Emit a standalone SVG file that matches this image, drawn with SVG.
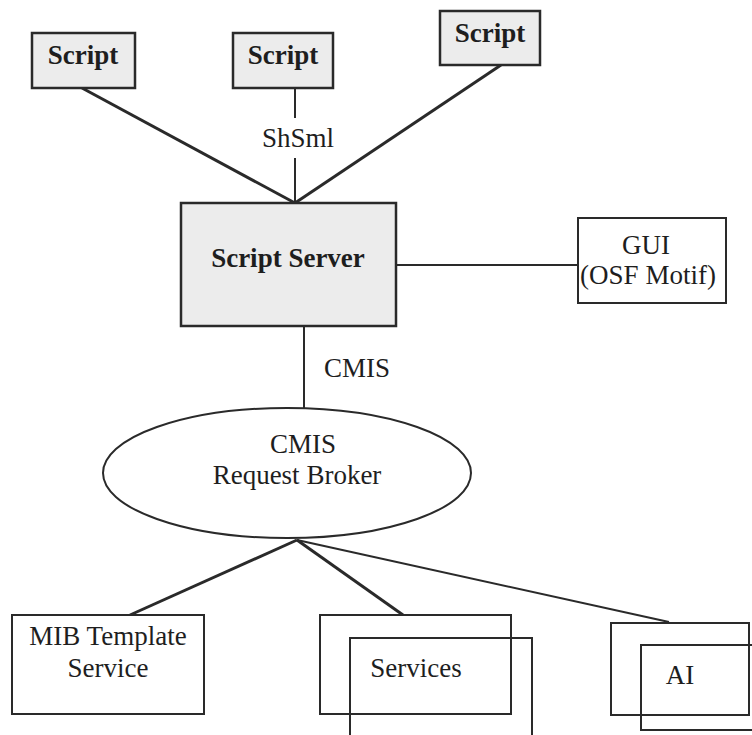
<svg xmlns="http://www.w3.org/2000/svg" width="752" height="735" viewBox="0 0 752 735">
<style>
.box{fill:#ffffff;stroke:#2a2a2a;stroke-width:2}
.gbox{fill:#ececec;stroke:#2a2a2a;stroke-width:2.5}
.t{font-family:"Liberation Serif","Times New Roman",serif;font-size:27px;fill:#1e1e1e;text-anchor:middle}
.b{font-weight:bold}
.ln{stroke:#2a2a2a;stroke-width:2;fill:none}
.thk{stroke-width:3}
</style>
<rect width="752" height="735" fill="#ffffff"/>
<g id="connectors">
<line class="ln thk" x1="82" y1="88" x2="295" y2="203"/>
<line class="ln" x1="295" y1="88" x2="295" y2="118"/>
<line class="ln" x1="295" y1="158" x2="295" y2="203"/>
<line class="ln thk" x1="501" y1="65" x2="295" y2="203"/>
<line class="ln" x1="396" y1="265" x2="578" y2="265"/>
<line class="ln" x1="304" y1="326" x2="304" y2="408"/>
<line class="ln thk" x1="297" y1="540" x2="130" y2="615"/>
<line class="ln thk" x1="297" y1="540" x2="403" y2="615"/>
<line class="ln" x1="297" y1="540" x2="669" y2="622"/>
<text class="t" x="298" y="147">ShSml</text>
<text class="t" x="357" y="377">CMIS</text>
</g>
<g id="script1">
<rect class="gbox" x="32" y="33" width="103" height="55"/>
<text class="t b" x="83" y="64">Script</text>
</g>
<g id="script2">
<rect class="gbox" x="233" y="33" width="100" height="55"/>
<text class="t b" x="283" y="64">Script</text>
</g>
<g id="script3">
<rect class="gbox" x="440" y="11" width="100" height="54"/>
<text class="t b" x="490" y="42">Script</text>
</g>
<g id="script-server">
<rect class="gbox" x="181" y="203" width="215" height="123"/>
<text class="t b" x="288" y="267">Script Server</text>
</g>
<g id="gui">
<rect class="box" x="578" y="218" width="148" height="85"/>
<text class="t" x="646" y="254">GUI</text>
<text class="t" x="648" y="284">(OSF Motif)</text>
</g>
<g id="broker">
<ellipse class="box" cx="287" cy="473" rx="184" ry="65"/>
<text class="t" x="303" y="453">CMIS</text>
<text class="t" x="297" y="484">Request Broker</text>
</g>
<g id="mib">
<rect class="box" x="12" y="615" width="192" height="99"/>
<text class="t" x="108" y="645">MIB Template</text>
<text class="t" x="108" y="677">Service</text>
</g>
<g id="services">
<rect class="box" x="320" y="615" width="191" height="99"/>
<rect class="box" x="350" y="638" width="182" height="110" style="fill:none"/>
<text class="t" x="416" y="677">Services</text>
</g>
<g id="ai">
<rect class="box" x="611" y="623" width="138" height="92"/>
<rect class="box" x="641" y="645" width="130" height="85" style="fill:none"/>
<text class="t" x="680" y="684">AI</text>
</g>
</svg>
